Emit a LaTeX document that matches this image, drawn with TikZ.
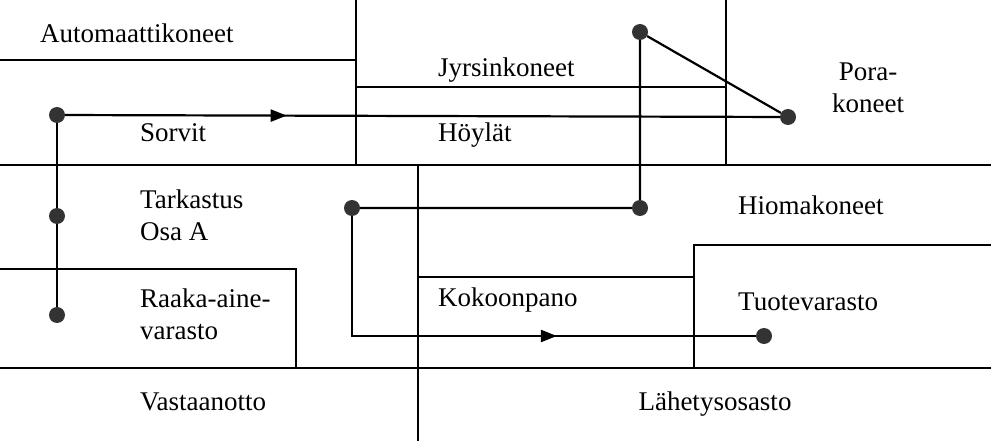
\documentclass[tikz,border=0pt]{standalone}
\usepackage{fontspec}
\setmainfont{Liberation Serif}
\usetikzlibrary{decorations.markings,arrows.meta}
\begin{document}
\begin{tikzpicture}[x=1pt,y=-1pt,
                    wall/.style={line width=2.2pt},
                    flow/.style={line width=2.2pt},
                    dot/.style={circle,fill=black!80,inner sep=0pt,minimum size=16pt},
                    room/.style={font=\rmfamily\fontsize{27}{32}\selectfont,anchor=west,align=left,inner sep=0pt},
                    midarrow/.style={decoration={markings,mark=at position #1 with {\arrow{Triangle[length=16pt,width=12pt]}}},postaction={decorate}},
                    ]
    \useasboundingbox (0,0) rectangle (991,441);
    %Waende
    \draw [wall] (0,60) -- (356,60);
    \draw [wall] (356,0) -- (356,165);
    \draw [wall] (726,0) -- (726,165);
    \draw [wall] (356,87) -- (726,87);
    \draw [wall] (0,165) -- (991,165);
    \draw [wall] (418,165) -- (418,441);
    \draw [wall] (0,269) -- (296,269) -- (296,368);
    \draw [wall] (418,277) -- (694,277);
    \draw [wall] (694,368) -- (694,245) -- (991,245);
    \draw [wall] (0,368) -- (991,368);
    %Raeume
    \node [room] (auto) at (40,33) {Automaattikoneet};
    \node [room] (jyrs) at (438,70) {Jyrsinkoneet};
    \node [room,align=center,anchor=center] (pora) at (868,88) {Pora-\\koneet};
    \node [room] (sorv) at (140,133) {Sorvit};
    \node [room] (hoyl) at (438,135) {Höylät};
    \node [room] (tark) at (140,215) {Tarkastus\\Osa A};
    \node [room] (hiom) at (738,205) {Hiomakoneet};
    \node [room] (raak) at (140,314) {Raaka-aine-\\varasto};
    \node [room] (koko) at (438,300) {Kokoonpano};
    \node [room] (tuot) at (738,302) {Tuotevarasto};
    \node [room] (vast) at (140,402) {Vastaanotto};
    \node [room,anchor=center] (lahe) at (715,404) {Lähetysosasto};
    %Materialfluss
    \node [dot] (d1) at (57,115) {};
    \node [dot] (d2) at (57,216) {};
    \node [dot] (d3) at (57,315) {};
    \node [dot] (d4) at (788,117) {};
    \node [dot] (d5) at (640,32) {};
    \node [dot] (d6) at (640,208) {};
    \node [dot] (d7) at (352,208) {};
    \node [dot] (d8) at (764,336) {};
    \coordinate (k1) at (352,336);
    \draw [flow] (d3) -- (d2) -- (d1);
    \draw [flow,midarrow=0.31] (d1) -- (d4);
    \draw [flow] (d4) -- (d5) -- (d6) -- (d7);
    \draw [flow,midarrow=0.62] (d7) -- (k1) -- (d8);
\end{tikzpicture}
\end{document}
